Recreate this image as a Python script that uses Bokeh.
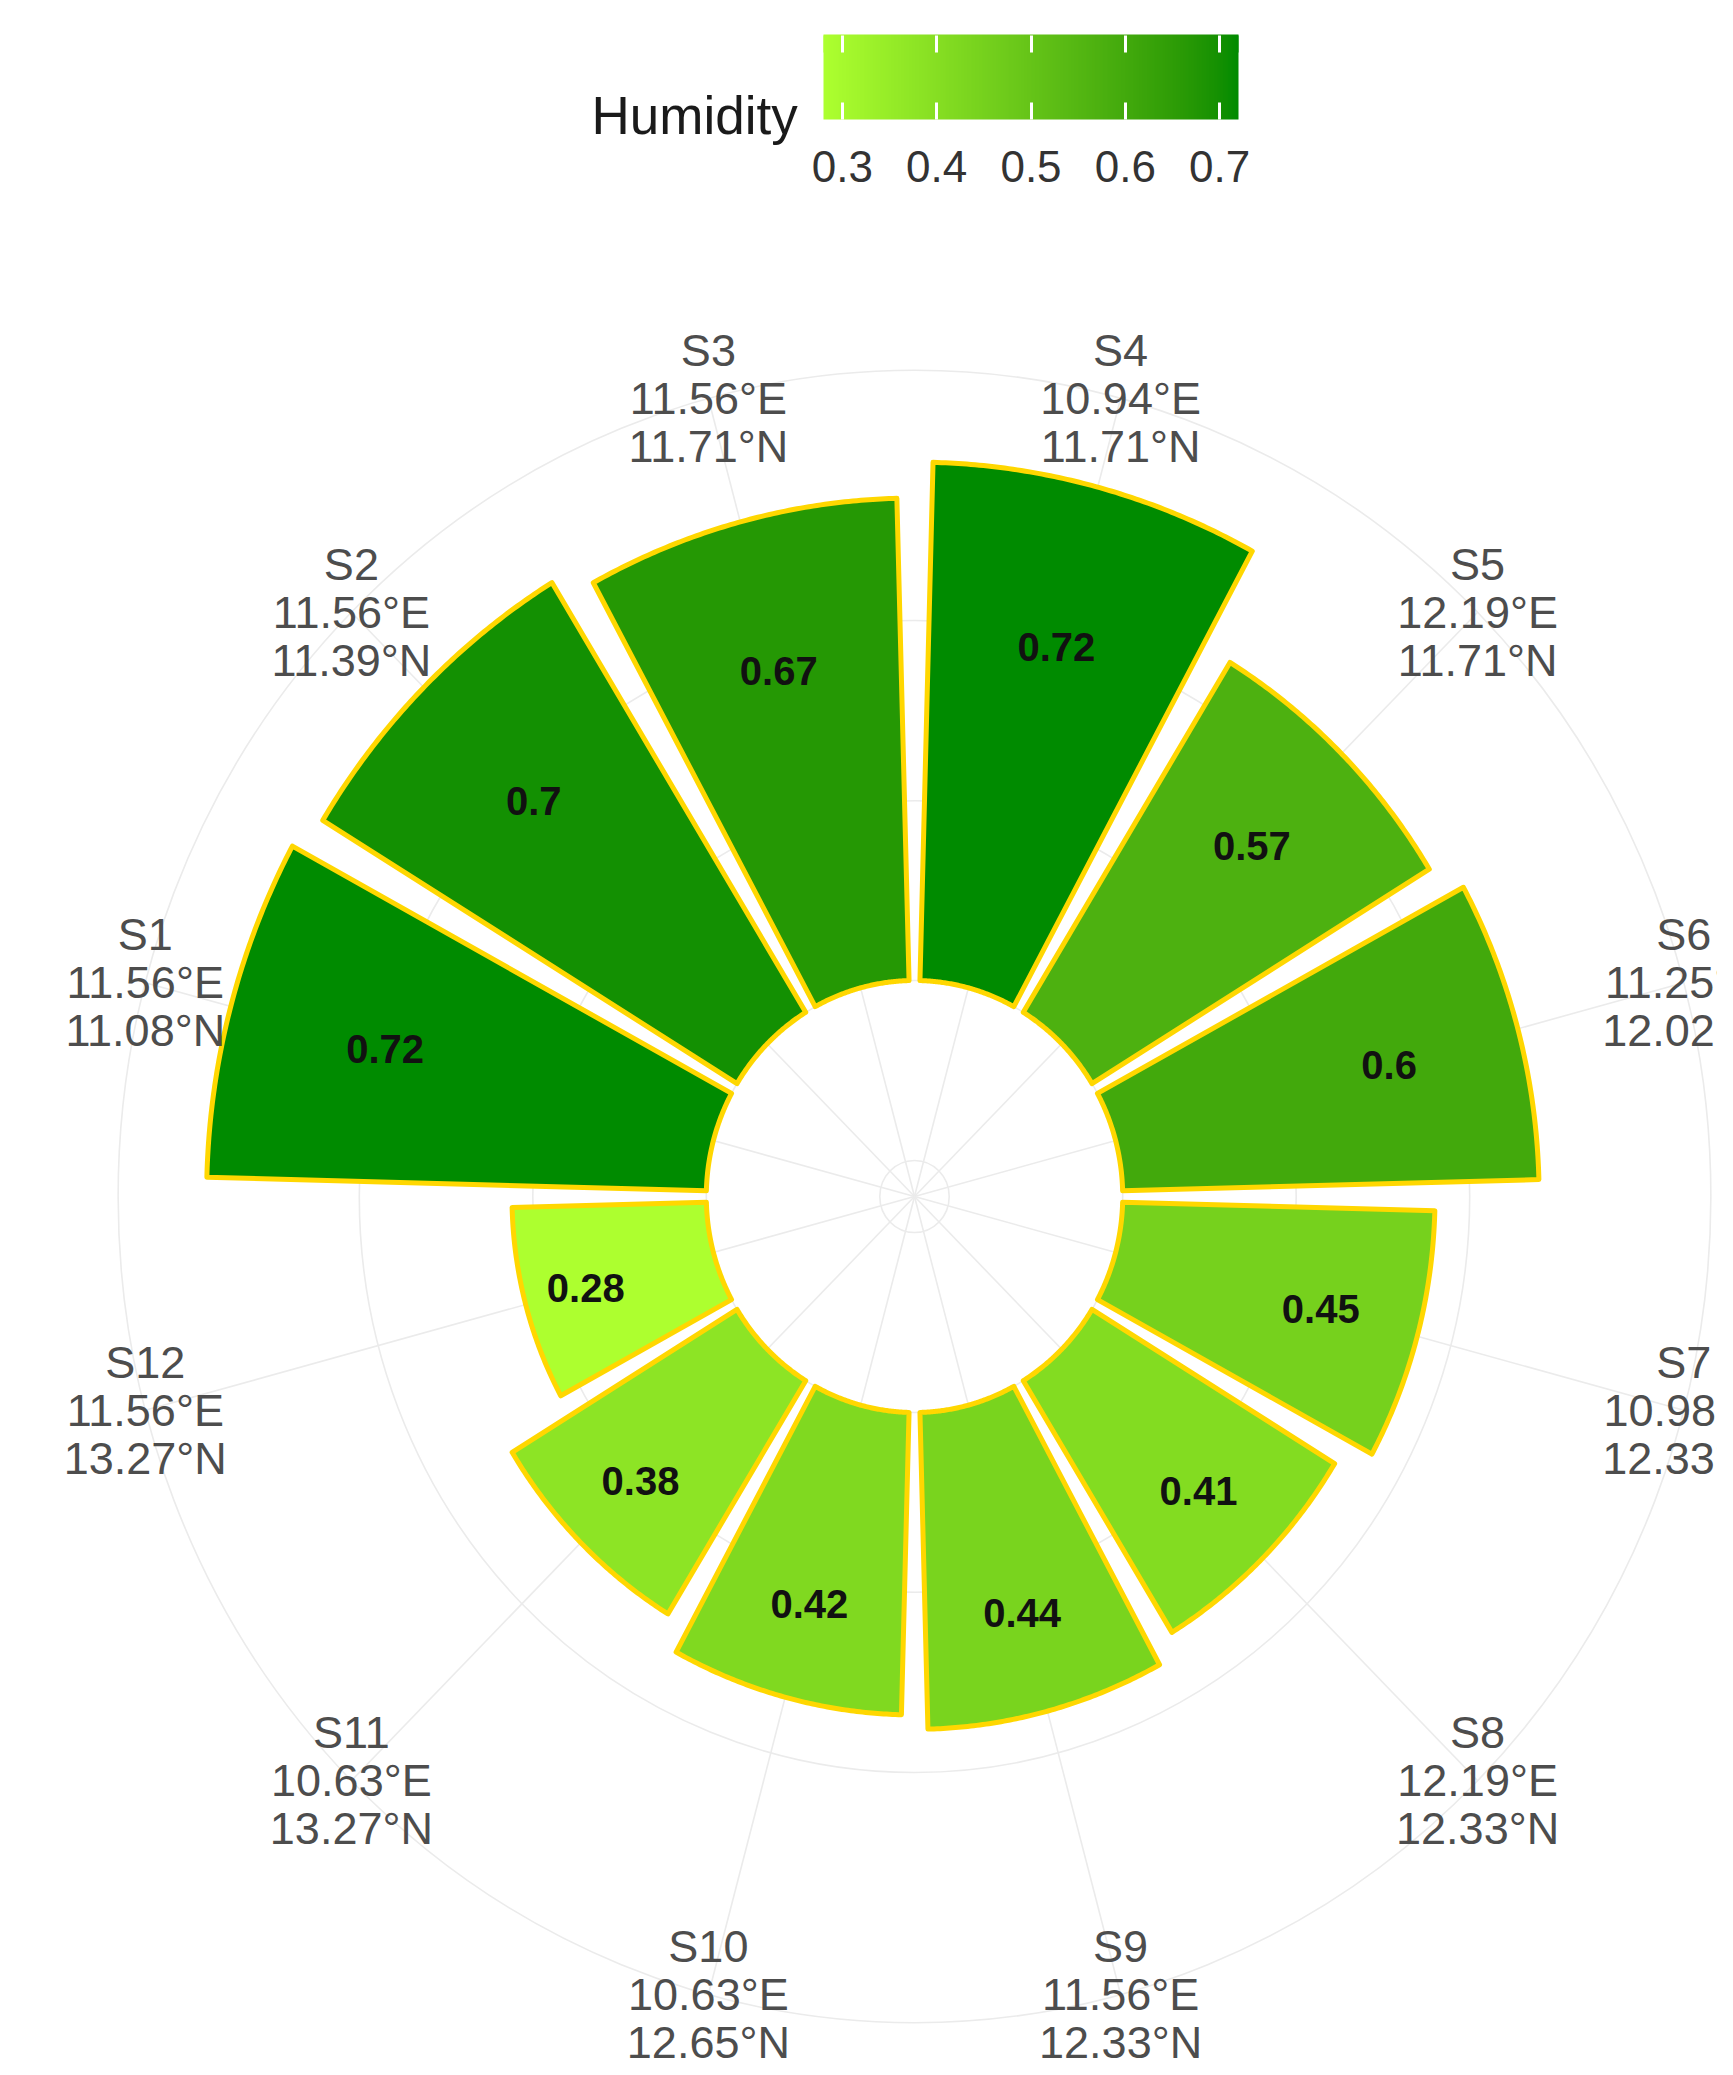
import numpy as np
from bokeh.plotting import figure
from bokeh.models import (ColumnDataSource, LinearColorMapper, ColorBar,
                          FixedTicker, Range1d, Label)
from bokeh.core.properties import value
from bokeh.embed import file_html
from bokeh.resources import INLINE

# ---------------- data ----------------
stations = ["S1", "S2", "S3", "S4", "S5", "S6", "S7", "S8", "S9", "S10", "S11", "S12"]
lon_e = ["11.56", "11.56", "11.56", "10.94", "12.19", "11.25",
         "10.98", "12.19", "11.56", "10.63", "10.63", "11.56"]
lat_n = ["11.08", "11.39", "11.71", "11.71", "11.71", "12.02",
         "12.33", "12.33", "12.33", "12.65", "13.27", "13.27"]
humidity = [0.72, 0.70, 0.67, 0.72, 0.57, 0.60, 0.45, 0.41, 0.44, 0.42, 0.38, 0.28]
legend_ticks = [0.3, 0.4, 0.5, 0.6, 0.7]
radial_breaks = [-0.25, 0.0, 0.25, 0.5]

# ---------------- polar scale ----------------
R_MIN = -0.3                      # lower limit of radial axis (hole)
R_MAX = max(humidity)
LABEL_R = 0.45 / 0.4 * (R_MAX - R_MIN)   # ggplot places theta labels at 0.45
BAR_WIDTH = 0.9
LABEL_FRAC = 0.68
n = len(stations)
slot = 360.0 / n
theta_c = np.radians(180.0 - slot / 2 - slot * np.arange(n))
half_w = np.radians(slot * BAR_WIDTH / 2)

# ---------------- colour scale (Lab interpolation like ggplot) ----------------
LOW, HIGH = "#ADFF2F", "#008B00"
M = np.array([[0.4124564, 0.3575761, 0.1804375],
              [0.2126729, 0.7151522, 0.0721750],
              [0.0193339, 0.1191920, 0.9503041]])
Minv = np.linalg.inv(M)
WP = np.array([0.95047, 1.0, 1.08883])
d = 6 / 29


def to_lab(h):
    c = np.array([int(h[i:i + 2], 16) / 255 for i in (1, 3, 5)])
    lin = np.where(c <= 0.04045, c / 12.92, ((c + 0.055) / 1.055) ** 2.4)
    xyz = M @ lin / WP
    f = np.where(xyz > d ** 3, np.cbrt(xyz), xyz / (3 * d * d) + 4 / 29)
    return np.array([116 * f[1] - 16, 500 * (f[0] - f[1]), 200 * (f[1] - f[2])])


def from_lab(lab):
    fy = (lab[0] + 16) / 116
    f = np.array([fy + lab[1] / 500, fy, fy - lab[2] / 200])
    xyz = np.where(f > d, f ** 3, 3 * d * d * (f - 4 / 29)) * WP
    lin = np.clip(Minv @ xyz, 0, 1)
    c = np.where(lin <= 0.0031308, 12.92 * lin, 1.055 * lin ** (1 / 2.4) - 0.055)
    c = np.clip(np.round(c * 255), 0, 255).astype(int)
    return "#%02x%02x%02x" % tuple(c)


la, lb = to_lab(LOW), to_lab(HIGH)
palette = [from_lab(la + (lb - la) * t) for t in np.linspace(0, 1, 256)]
mapper = LinearColorMapper(palette=palette, low=min(humidity), high=max(humidity))

# ---------------- figure ----------------
PX_X, PX_Y = 694.0, 720.0
CX, CY = 914.0, 1196.0
W, H = 1717, 2059
p = figure(width=W, height=H,
           x_range=Range1d((0 - CX) / PX_X, (W - CX) / PX_X),
           y_range=Range1d((CY - H) / PX_Y, CY / PX_Y),
           output_backend="svg", toolbar_location=None,
           x_axis_location=None, y_axis_location=None,
           min_border=0, outline_line_color=None,
           background_fill_color="white", border_fill_color="white")
p.grid.visible = False

GRID = "#EBEBEB"
circ_r = [b - R_MIN for b in radial_breaks] + [LABEL_R]
p.ellipse(x=0, y=0, width=[2 * r for r in circ_r], height=[2 * r for r in circ_r],
          fill_color=None, line_color=GRID, line_width=1.6)
p.segment(x0=0, y0=0, x1=LABEL_R * np.cos(theta_c), y1=LABEL_R * np.sin(theta_c),
          line_color=GRID, line_width=1.6)

# bars as annular sectors
xs, ys = [], []
r0 = 0 - R_MIN
for tc, v in zip(theta_c, humidity):
    r1 = v - R_MIN
    t = np.linspace(tc + half_w, tc - half_w, 80)
    rr = np.concatenate([np.full(t.size, r1), np.full(t.size, r0)])
    tt = np.concatenate([t, t[::-1]])
    xs.append(rr * np.cos(tt))
    ys.append(rr * np.sin(tt))
src = ColumnDataSource(dict(xs=xs, ys=ys, hum=humidity))
p.patches("xs", "ys", source=src, fill_color={"field": "hum", "transform": mapper},
          line_color="#FFD700", line_width=5, line_join="round")

# value labels
lr = np.array([LABEL_FRAC * v - R_MIN for v in humidity])
p.text(x=lr * np.cos(theta_c), y=lr * np.sin(theta_c),
       text=[f"{v:g}" for v in humidity],
       text_font=value("Liberation Sans"), text_font_style="bold",
       text_font_size="40px", text_align="center", text_baseline="middle",
       text_color="#111111")

# theta (station) labels
p.text(x=LABEL_R * np.cos(theta_c), y=LABEL_R * np.sin(theta_c),
       text=[f"{s}\n{a}°E\n{b}°N" for s, a, b in zip(stations, lon_e, lat_n)],
       text_font=value("Liberation Sans"), text_font_size="45px",
       text_align="center", text_baseline="middle", text_line_height=0.94,
       text_color="#4D4D4D")

# colour legend (main bar with bottom ticks)
cb = ColorBar(color_mapper=mapper, orientation="horizontal", width=415, height=85,
              location=(823, 1875), padding=0, margin=0,
              ticker=FixedTicker(ticks=legend_ticks),
              major_label_text_font="Liberation Sans",
              major_label_text_font_size="44px", major_label_text_color="#333333",
              label_standoff=31, major_tick_line_color="white",
              major_tick_line_width=3, major_tick_in=17, major_tick_out=0,
              minor_tick_line_color=None, bar_line_color=None,
              border_line_color=None, background_fill_alpha=0)
p.add_layout(cb)
# thin strip on top of the bar carrying the upper ticks
cb_top = ColorBar(color_mapper=mapper, orientation="horizontal", width=415, height=17,
                  location=(823, 2007), padding=0, margin=0,
                  ticker=FixedTicker(ticks=legend_ticks),
                  major_label_text_font_size="0px", major_label_text_alpha=0,
                  label_standoff=0, major_tick_line_color="white",
                  major_tick_line_width=3, major_tick_in=17, major_tick_out=0,
                  minor_tick_line_color=None, bar_line_color=None,
                  border_line_color=None, background_fill_alpha=0)
p.add_layout(cb_top)
p.add_layout(Label(x=591, y=1944, x_units="screen", y_units="screen", text="Humidity",
                   text_font="Liberation Sans", text_font_size="53px",
                   text_color="#1A1A1A", text_baseline="alphabetic", text_align="left"))

open("out.html", "w").write(file_html(p, INLINE))
